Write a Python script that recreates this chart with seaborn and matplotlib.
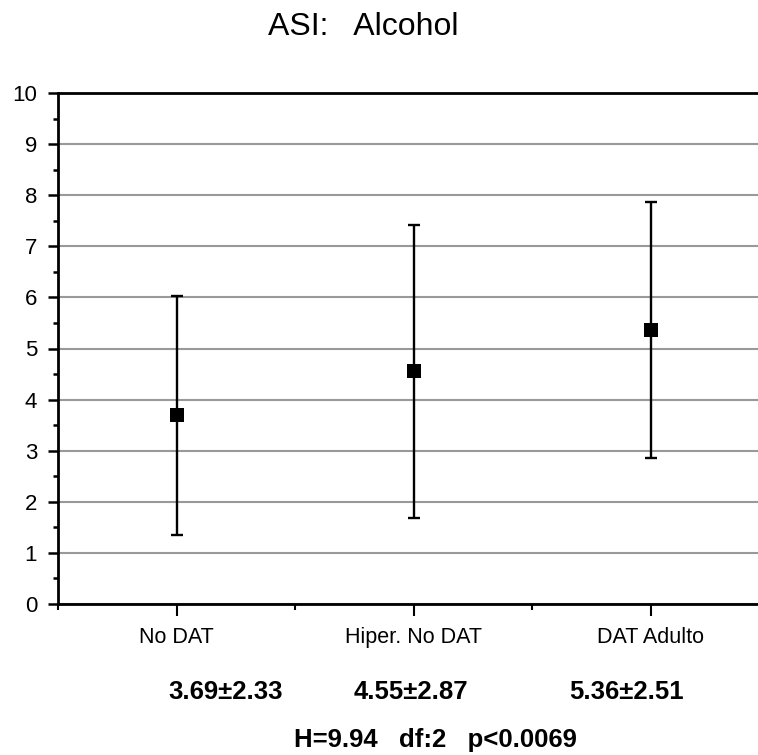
import matplotlib
matplotlib.use("Agg")
import matplotlib.pyplot as plt
import seaborn as sns
import pandas as pd
from matplotlib.ticker import MultipleLocator, FixedLocator

categories = ["No DAT", "Hiper. No DAT", "DAT Adulto"]
means = [3.69, 4.55, 5.36]
sds = [2.33, 2.87, 2.51]
stat_labels = ["3.69±2.33", "4.55±2.87", "5.36±2.51"]
test_label = "H=9.94   df:2   p<0.0069"
title = "ASI:   Alcohol"

sns.set_theme(style="white")
plt.rcParams["font.family"] = ["Liberation Sans", "DejaVu Sans"]
plt.rcParams["text.color"] = "black"
plt.rcParams["xtick.color"] = "black"
plt.rcParams["ytick.color"] = "black"

df = pd.DataFrame({"group": categories, "mean": means, "sd": sds})

fig = plt.figure(figsize=(7.58, 7.55), dpi=100)
ax = fig.add_axes([58 / 758, 151 / 755, 711 / 758, 511 / 755])

ax.errorbar(range(len(categories)), df["mean"], yerr=df["sd"], fmt="none",
            ecolor="black", elinewidth=1.7, capsize=4.3, capthick=1.7, zorder=3)
sns.scatterplot(data=df, x="group", y="mean", marker="s", s=88, color="black",
                edgecolor="black", linewidth=0, ax=ax, zorder=4, legend=False)

ax.set_xlim(-0.5, 2.5)
ax.set_ylim(0, 10)
ax.yaxis.set_major_locator(MultipleLocator(1))
ax.yaxis.set_minor_locator(MultipleLocator(0.5))
ax.xaxis.set_major_locator(FixedLocator([0, 1, 2]))
ax.xaxis.set_minor_locator(FixedLocator([-0.5, 0.5, 1.5, 2.5]))
ax.set_xticklabels(categories)
ax.set_xlabel("")
ax.set_ylabel("")

ax.grid(axis="y", which="major", color="#999999", linewidth=1.5)
ax.set_axisbelow(True)
for s in ["left", "bottom", "top"]:
    ax.spines[s].set_visible(True)
    ax.spines[s].set_color("black")
    ax.spines[s].set_linewidth(2)
ax.spines["right"].set_visible(False)

ax.tick_params(axis="y", which="major", direction="out", length=7, width=1.8,
               color="black", labelcolor="black", labelsize=16, pad=8, left=True)
ax.tick_params(axis="y", which="minor", direction="out", length=3.6, width=1.8,
               color="black", left=True)
ax.tick_params(axis="x", which="major", direction="out", length=8.6, width=1.5,
               color="black", labelcolor="black", labelsize=15.5, pad=8,
               bottom=True)
ax.tick_params(axis="x", which="minor", direction="out", length=4, width=1.5,
               color="black", bottom=True)

fig.text(363 / 758, 1 - 27 / 755, title, ha="center", va="center",
         fontsize=23, color="black")
for x, lab in zip([226, 411, 627], stat_labels):
    fig.text(x / 758, 1 - 692 / 755, lab, ha="center", va="center",
             fontsize=18.5, fontweight="bold", color="black")
fig.text(435 / 758, 1 - 740 / 755, test_label, ha="center", va="center",
         fontsize=18.5, fontweight="bold", color="black")

fig.savefig("out.png", dpi=100)
